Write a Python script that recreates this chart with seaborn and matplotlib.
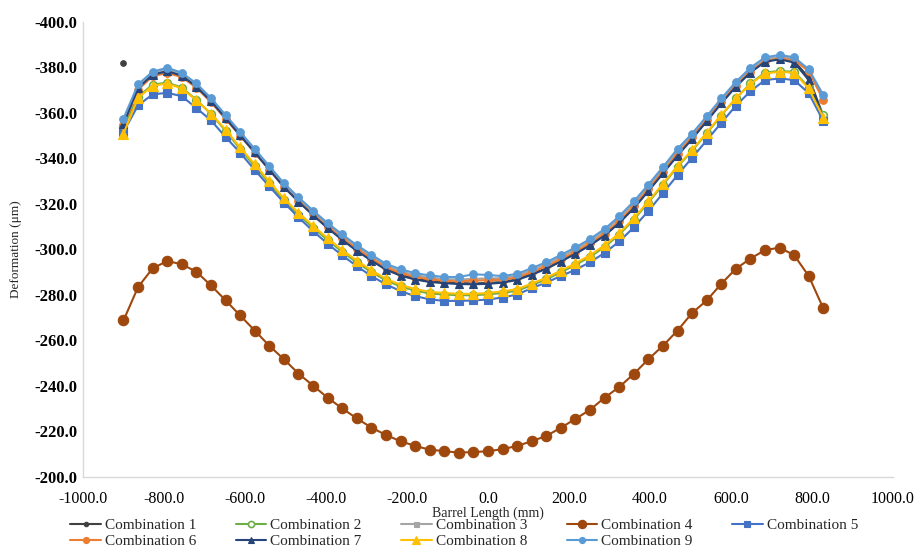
import numpy as np
import pandas as pd
import seaborn as sns
import matplotlib.pyplot as plt
from matplotlib.lines import Line2D

# Node positions along the barrel (mm)
barrel_x = [-900, -864, -828, -792, -756, -720, -684, -648, -612, -576,
            -540, -504, -468, -432, -396, -360, -324, -288, -252, -216,
            -180, -144, -108, -72, -36, 0, 36, 72, 108, 144,
            180, 216, 252, 288, 324, 360, 396, 432, 468, 504,
            540, 576, 612, 648, 684, 720, 756, 792, 828]

# Deformation (um) for each parameter combination
comb1 = [-381.8, -371.2, -377.0, -378.6, -376.6, -371.8, -365.4, -358.0, -350.4, -342.9,
         -335.3, -327.7, -321.3, -315.3, -309.7, -304.5, -299.7, -295.4, -291.4, -288.8,
         -287.1, -286.0, -285.5, -285.1, -285.0, -285.2, -285.6, -286.8, -289.1, -291.7,
         -294.9, -298.3, -302.0, -306.3, -311.8, -318.3, -325.8, -333.6, -341.4, -348.7,
         -356.5, -364.3, -371.7, -377.9, -382.6, -383.8, -382.5, -375.5, -358.5]
comb2 = [-353.8, -367.0, -372.3, -373.2, -371.0, -365.6, -359.4, -352.0, -344.0, -336.5,
         -329.0, -321.5, -315.2, -309.5, -304.0, -298.9, -294.2, -290.0, -286.3, -283.7,
         -281.8, -280.6, -280.1, -279.8, -279.8, -280.2, -280.8, -281.8, -284.2, -286.8,
         -289.9, -293.1, -296.7, -301.0, -306.4, -313.0, -320.5, -328.3, -336.2, -343.2,
         -350.9, -358.7, -366.2, -372.8, -377.6, -378.3, -377.9, -371.2, -358.9]
comb3 = [-356.0, -371.6, -377.3, -379.0, -376.8, -372.1, -365.7, -358.3, -350.8, -343.4,
         -335.8, -328.3, -322.0, -316.2, -310.7, -305.7, -301.0, -296.8, -292.8, -290.3,
         -288.6, -287.6, -286.9, -286.7, -287.0, -287.2, -287.3, -288.4, -290.8, -293.4,
         -296.6, -299.9, -303.6, -308.0, -313.6, -320.1, -327.5, -335.2, -342.9, -350.0,
         -357.6, -365.4, -372.7, -378.9, -383.5, -384.5, -383.6, -378.6, -366.3]
comb4 = [-268.7, -283.4, -291.6, -294.8, -293.4, -290.1, -284.1, -277.6, -270.9, -264.3,
         -257.6, -251.7, -245.4, -240.1, -234.8, -230.1, -225.7, -221.7, -218.4, -215.7,
         -213.6, -212.0, -211.3, -210.7, -210.9, -211.3, -212.2, -213.6, -215.7, -218.0,
         -221.6, -225.5, -229.5, -234.8, -239.5, -245.2, -251.7, -257.6, -264.3, -272.0,
         -277.5, -284.8, -291.4, -295.9, -299.6, -300.7, -297.4, -288.2, -274.0]
comb5 = [-351.5, -363.2, -368.0, -368.7, -367.2, -362.0, -356.6, -349.3, -342.4, -334.8,
         -327.6, -320.5, -314.0, -308.0, -302.4, -297.3, -292.6, -288.2, -284.6, -281.6,
         -279.4, -278.0, -277.3, -277.3, -277.5, -277.9, -278.8, -280.1, -282.9, -285.4,
         -288.2, -291.0, -294.3, -298.4, -303.4, -309.6, -316.8, -324.6, -332.6, -340.2,
         -347.8, -355.5, -363.0, -369.4, -374.3, -375.0, -374.3, -368.5, -356.3]
comb6 = [-354.4, -370.0, -376.0, -377.4, -375.6, -370.9, -364.6, -357.2, -349.8, -342.4,
         -334.9, -327.4, -321.1, -315.3, -309.8, -304.8, -300.1, -295.9, -292.0, -289.5,
         -287.8, -286.8, -286.1, -285.9, -286.2, -286.4, -286.6, -287.6, -289.9, -292.5,
         -295.6, -298.9, -302.6, -306.9, -312.4, -318.9, -326.4, -334.1, -341.9, -349.2,
         -356.8, -364.6, -371.9, -378.0, -382.6, -383.6, -383.0, -378.2, -365.4]
comb7 = [-355.0, -370.8, -376.6, -378.2, -376.2, -371.4, -365.0, -357.6, -350.0, -342.5,
         -334.9, -327.3, -320.9, -314.9, -309.3, -304.1, -299.3, -295.0, -291.0, -288.4,
         -286.7, -285.6, -285.1, -284.7, -284.6, -284.8, -285.3, -286.5, -288.8, -291.4,
         -294.6, -298.0, -301.7, -306.0, -311.5, -318.0, -325.5, -333.3, -341.1, -348.4,
         -356.2, -364.0, -371.4, -377.6, -382.3, -383.4, -382.0, -374.3, -357.4]
comb8 = [-350.7, -366.5, -371.8, -372.8, -370.6, -365.4, -359.6, -352.5, -344.7, -337.3,
         -329.8, -322.3, -316.0, -310.3, -304.8, -299.7, -295.0, -290.8, -287.0, -284.4,
         -282.5, -281.3, -280.8, -280.4, -280.4, -280.8, -281.5, -282.5, -284.9, -287.5,
         -290.6, -293.8, -297.4, -301.7, -307.0, -313.6, -321.0, -328.8, -336.6, -343.6,
         -351.2, -359.0, -366.3, -372.6, -377.2, -377.9, -377.5, -370.6, -357.8]
comb9 = [-357.4, -372.4, -378.0, -379.7, -377.5, -372.8, -366.4, -359.0, -351.5, -344.1,
         -336.5, -329.0, -322.8, -317.0, -311.5, -306.5, -301.8, -297.6, -293.6, -291.2,
         -289.5, -288.5, -287.8, -287.8, -289.0, -288.7, -288.2, -289.2, -291.7, -294.3,
         -297.5, -300.8, -304.5, -308.9, -314.5, -321.0, -328.4, -336.1, -344.1, -350.8,
         -358.4, -366.2, -373.5, -379.7, -384.3, -385.3, -384.3, -379.0, -367.7]

series_names = ["Combination 1", "Combination 2", "Combination 3", "Combination 4",
                "Combination 5", "Combination 6", "Combination 7", "Combination 8",
                "Combination 9"]
series_values = [comb1, comb2, comb3, comb4, comb5, comb6, comb7, comb8, comb9]

x_ticks = [-1000, -800, -600, -400, -200, 0, 200, 400, 600, 800, 1000]
y_ticks = [-400, -380, -360, -340, -320, -300, -280, -260, -240, -220, -200]

styles = {
    "Combination 1": dict(color="#404040", marker="o", ms=4.0, mfc="#404040", mec="#404040"),
    "Combination 2": dict(color="#70AD47", marker="o", ms=5.5, mfc="white", mec="#70AD47", mew=1.2),
    "Combination 3": dict(color="#A5A5A5", marker="s", ms=4.5, mfc="#A5A5A5", mec="#A5A5A5"),
    "Combination 4": dict(color="#9E480E", marker="o", ms=7.5, mfc="#9E480E", mec="#9E480E"),
    "Combination 5": dict(color="#4472C4", marker="s", ms=6.0, mfc="#4472C4", mec="#4472C4"),
    "Combination 6": dict(color="#ED7D31", marker="o", ms=5.5, mfc="#ED7D31", mec="#ED7D31"),
    "Combination 7": dict(color="#264478", marker="^", ms=6.0, mfc="#264478", mec="#264478"),
    "Combination 8": dict(color="#FFC000", marker="^", ms=6.5, mfc="#FFC000", mec="#FFC000"),
    "Combination 9": dict(color="#5B9BD5", marker="o", ms=5.5, mfc="#5B9BD5", mec="#5B9BD5"),
}

sns.set_theme(style="white")
plt.rcParams["font.family"] = ["Liberation Serif", "DejaVu Serif"]

fig = plt.figure(figsize=(9.19, 5.52), dpi=100)
ax = fig.add_axes([0.0903, 0.136, 0.8814, 0.825])

handles = []
for name, vals in zip(series_names, series_values):
    st = styles[name]
    seg = [0] * len(vals)
    if name == "Combination 1":
        # first node is reported on its own, not joined to the curve
        seg = [0] + [1] * (len(vals) - 1)
    df = pd.DataFrame({"x": barrel_x, "y": vals, "seg": seg})
    sns.lineplot(data=df, x="x", y="y", units="seg", estimator=None, sort=False,
                 ax=ax, color=st["color"], lw=1.5, marker=st["marker"],
                 markersize=st["ms"], markerfacecolor=st["mfc"],
                 markeredgecolor=st["mec"], markeredgewidth=st.get("mew", 0.8),
                 legend=False)
    handles.append(Line2D([], [], color=st["color"], lw=1.5, marker=st["marker"],
                          markersize=st["ms"] * 0.8, markerfacecolor=st["mfc"],
                          markeredgecolor=st["mec"], markeredgewidth=st.get("mew", 0.8)))

ax.set_xlim(-1000, 1000)
ax.set_ylim(-200, -400)
ax.set_xticks(x_ticks)
ax.set_yticks(y_ticks)
ax.set_xticklabels([f"{v:.1f}" for v in x_ticks], fontsize=11.5)
ax.set_yticklabels([f"{v:.1f}" for v in y_ticks], fontsize=12, fontweight="bold")
ax.tick_params(axis="both", length=0, pad=4, colors="black")
ax.tick_params(axis="x", pad=10)

for side in ["top", "right"]:
    ax.spines[side].set_visible(False)
for side in ["left", "bottom"]:
    ax.spines[side].set_color("#D9D9D9")
    ax.spines[side].set_linewidth(1.0)

ax.set_xlabel("Barrel Length (mm)", fontsize=10, labelpad=0)
ax.set_ylabel("Deformation (μm)", fontsize=9.5, labelpad=9)

# Excel-style legend: rows of five, filled left to right
order = [0, 5, 1, 6, 2, 7, 3, 8, 4]
fig.legend([handles[i] for i in order], [series_names[i] for i in order],
           ncol=5, loc="center", bbox_to_anchor=(0.505, 0.034), frameon=False,
           fontsize=11, handlelength=2.0, handletextpad=0.25, columnspacing=2.6,
           labelspacing=0.15, borderpad=0.0)

fig.savefig("out.png", dpi=100, facecolor="white")
